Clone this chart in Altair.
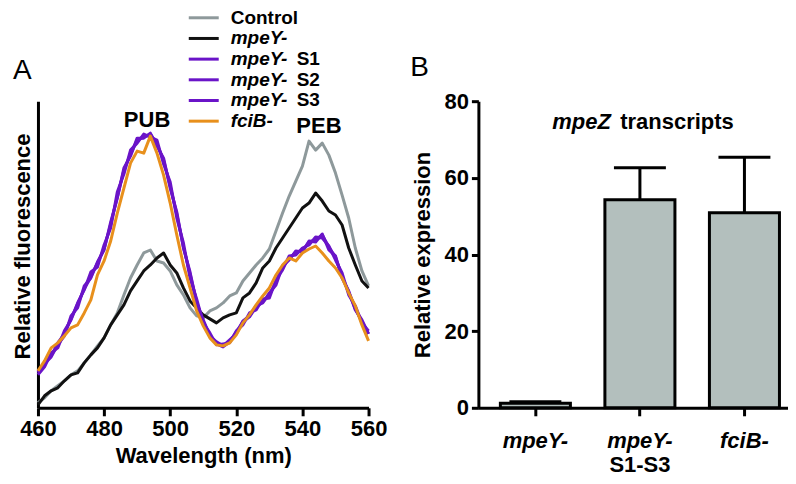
import altair as alt
import pandas as pd

FONT = "Liberation Sans"

# ---------------- Panel A data (relative fluorescence, arbitrary units) ----------------
wavelength = list(range(460, 561, 2))
control = [5, 10, 17, 22, 27, 33, 37, 45, 53, 62, 70, 83, 95, 113, 130, 143, 155, 158, 147, 145,
           137, 123, 113, 100, 92, 90, 97, 100, 105, 112, 115, 127, 135, 143, 150, 159, 177, 195,
           212, 227, 242, 267, 258, 265, 253, 235, 213, 190, 160, 137, 122]
mpey = [3, 12, 17, 20, 27, 33, 35, 45, 53, 60, 70, 83, 93, 103, 117, 127, 137, 143, 150, 155,
        143, 135, 120, 107, 100, 93, 89, 85, 90, 93, 95, 110, 115, 125, 140, 147, 160, 170, 180,
        190, 200, 205, 215, 207, 197, 193, 183, 160, 143, 127, 120]
mpey_s1 = [35, 44, 51, 63, 72, 92, 100, 122, 130, 146, 158, 186, 210, 240, 252, 270, 270, 275, 262,
           250, 220, 196, 160, 136, 105, 88, 72, 66, 62, 68, 74, 87, 92, 102, 105, 115, 123, 142,
           148, 157, 156, 167, 166, 174, 158, 152, 130, 117, 98, 88, 74]
mpey_s2 = [33, 41, 55, 60, 77, 88, 105, 118, 136, 141, 163, 180, 216, 234, 258, 265, 274, 271, 268,
           244, 226, 190, 165, 130, 109, 85, 75, 63, 64, 65, 77, 83, 95, 98, 109, 110, 128, 138,
           152, 153, 160, 163, 171, 170, 162, 148, 135, 113, 102, 85, 77]
mpey_s3 = [36, 45, 52, 65, 74, 89, 104, 119, 131, 145, 159, 184, 211, 238, 254, 268, 271, 274, 264,
           248, 222, 194, 161, 134, 106, 86, 72, 64, 61, 66, 76, 86, 91, 101, 106, 113, 126, 141,
           149, 156, 157, 166, 168, 173, 161, 151, 131, 116, 99, 86, 74]
fcib = [37, 47, 60, 65, 72, 80, 83, 95, 108, 133, 147, 167, 195, 220, 245, 257, 255, 272, 255, 233,
        205, 173, 143, 120, 97, 82, 70, 63, 62, 65, 73, 85, 93, 103, 112, 120, 133, 143, 150, 147,
        155, 159, 162, 155, 147, 140, 130, 115, 102, 83, 67]

series_names = ["Control", "mpeY-", "mpeY- S1", "mpeY- S2", "mpeY- S3", "fciB-"]
series_colors = ["#8e999b", "#111111", "#6a14c8", "#6a14c8", "#6a14c8", "#e8901c"]
legend_italic = ["", "mpeY-", "mpeY-", "mpeY-", "mpeY-", "fciB-"]
legend_plain = ["Control", "", "S1", "S2", "S3", ""]

peak_labels = ["PUB", "PEB"]
peak_wl = [493, 545]
peak_val = [288, 282]

# ---------------- Panel B data ----------------
bar_cats = ["mpeY-", "mpeY- S1-S3", "fciB-"]
bar_line1 = ["mpeY-", "mpeY-", "fciB-"]
bar_line2 = ["", "S1-S3", ""]
bar_mean = [1.2, 54.3, 50.9]
bar_sd = [0.4, 8.3, 14.5]

# ---------------- build tables ----------------
rows = []
for name, vals in zip(series_names, [control, mpey, mpey_s1, mpey_s2, mpey_s3, fcib]):
    for w, v in zip(wavelength, vals):
        rows.append({"series": name, "wl": w, "val": v})
spec_df = pd.DataFrame(rows)
peak_df = pd.DataFrame({"label": peak_labels, "wl": peak_wl, "val": peak_val})
bar_df = pd.DataFrame({"cat": bar_cats, "mean": bar_mean, "sd": bar_sd,
                       "line1": bar_line1, "line2": bar_line2})

W1, H = 331, 307
W2 = 310
one = alt.Data(values=[{}])

axis_common = dict(domainColor="black", domainWidth=3, tickColor="black", tickWidth=3,
                   labelFont=FONT, labelFontSize=22, labelFontWeight="bold", labelColor="black",
                   titleFont=FONT, titleFontSize=22, titleFontWeight="bold", titleColor="black",
                   grid=False)

xA = alt.X("wl:Q", scale=alt.Scale(domain=[460, 560], nice=False, zero=False),
           axis=alt.Axis(values=[460, 480, 500, 520, 540, 560], title="Wavelength (nm)",
                         tickSize=8, labelPadding=3, titlePadding=6, labelFlush=False,
                         **axis_common))
yA = alt.Y("val:Q", scale=alt.Scale(domain=[0, 307], nice=False),
           axis=alt.Axis(title="Relative fluorescence", labels=False, ticks=False,
                         titlePadding=3, titleY=145, **axis_common))

lines = alt.Chart(spec_df).mark_line(strokeWidth=3, strokeJoin="round").encode(
    x=xA, y=yA,
    color=alt.Color("series:N", scale=alt.Scale(domain=series_names, range=series_colors),
                    legend=None),
)
peaks = alt.Chart(peak_df).mark_text(font=FONT, fontSize=22, fontWeight="bold",
                                     color="black").encode(
    x=alt.X("wl:Q"), y=alt.Y("val:Q"), text="label:N")

layersA = [lines, peaks]
row_y0, row_dy = -83.5, 20.7
for i, name in enumerate(series_names):
    py = row_y0 + i * row_dy
    layersA.append(alt.Chart(one).mark_rule(strokeWidth=3, color=series_colors[i]).encode(
        x=alt.value(151), x2=alt.value(181), y=alt.value(py)))
    if legend_italic[i]:
        layersA.append(alt.Chart(one).mark_text(
            text=legend_italic[i], font=FONT, fontSize=19, fontWeight="bold", fontStyle="italic",
            align="left", baseline="middle", color="black").encode(
            x=alt.value(193), y=alt.value(py)))
        if legend_plain[i]:
            layersA.append(alt.Chart(one).mark_text(
                text=legend_plain[i], font=FONT, fontSize=19, fontWeight="bold",
                align="left", baseline="middle", color="black").encode(
                x=alt.value(259), y=alt.value(py)))
    else:
        layersA.append(alt.Chart(one).mark_text(
            text=legend_plain[i], font=FONT, fontSize=19, fontWeight="bold",
            align="left", baseline="middle", color="black").encode(
            x=alt.value(193), y=alt.value(py)))

layersA.append(alt.Chart(one).mark_text(text="A", font=FONT, fontSize=28, align="left",
                                        baseline="middle", color="black").encode(
    x=alt.value(-25), y=alt.value(-30)))

panelA = alt.layer(*layersA).properties(width=W1, height=H)

# ---------------- Panel B ----------------
base = alt.Chart(bar_df).transform_calculate(upper="datum.mean + datum.sd")
xB = alt.X("cat:N", sort=bar_cats,
           scale=alt.Scale(paddingInner=0.33, paddingOuter=0.146, align=0.72),
           axis=alt.Axis(title=None, labels=False, tickSize=8, **axis_common))
yB = alt.Y("mean:Q", scale=alt.Scale(domain=[0, 80], nice=False),
           axis=alt.Axis(values=[0, 20, 40, 60, 80], title="Relative expression",
                         tickSize=7, labelPadding=3, titlePadding=9, **axis_common))

err = base.mark_rule(strokeWidth=3, color="black").encode(x=xB, y=yB, y2="upper:Q")
cap = base.mark_tick(orient="horizontal", size=52, thickness=3, color="black",
                     opacity=1).encode(x=xB, y=alt.Y("upper:Q"))
bars = base.mark_bar(fill="#b3bfbd", stroke="black", strokeWidth=3, opacity=1).encode(x=xB, y=yB)
lab1 = base.mark_text(font=FONT, fontSize=22, fontWeight="bold", fontStyle="italic",
                      baseline="middle", color="black").encode(
    x=xB, y=alt.value(H + 33), text="line1:N")
lab2 = base.mark_text(font=FONT, fontSize=22, fontWeight="bold",
                      baseline="middle", color="black").encode(
    x=xB, y=alt.value(H + 57), text="line2:N")
t1 = alt.Chart(one).mark_text(text="mpeZ", font=FONT, fontSize=22, fontWeight="bold",
                              fontStyle="italic", align="left", baseline="middle",
                              color="black").encode(x=alt.value(74), y=alt.value(21))
t2 = alt.Chart(one).mark_text(text="transcripts", font=FONT, fontSize=22, fontWeight="bold",
                              align="left", baseline="middle",
                              color="black").encode(x=alt.value(142), y=alt.value(21))
tB = alt.Chart(one).mark_text(text="B", font=FONT, fontSize=28, align="center",
                              baseline="middle", color="black").encode(
    x=alt.value(-59), y=alt.value(-33))

panelB = alt.layer(err, cap, bars, lab1, lab2, t1, t2, tB).properties(width=W2, height=H)

chart = alt.hconcat(panelA, panelB, spacing=110, bounds="flush").configure_view(
    stroke=None).properties(background="white",
                            padding={"left": 4, "top": 0, "right": 0, "bottom": 0})

chart.save("out.html", embed_options={"renderer": "svg", "actions": False})
